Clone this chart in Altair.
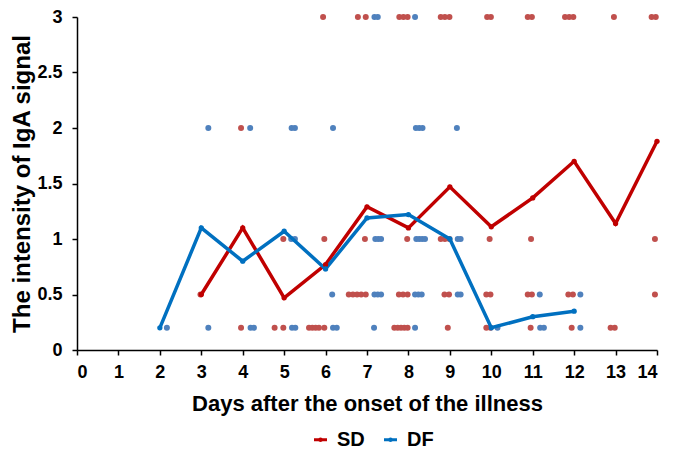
import altair as alt
import pandas as pd

# ---- individual samples (day position as plotted, IgA signal) ----
sd_y3 = [5.94, 6.78, 6.97, 7.78, 7.88, 7.98, 8.78, 8.88, 8.99, 9.9, 9.99,
         10.88, 10.98, 11.78, 11.88, 11.98, 12.96, 13.87, 13.97]
sd_y2 = [3.96]
sd_y1 = [4.98, 5.97, 6.95, 7.97, 8.78, 8.88, 8.99, 9.96, 10.96, 13.95]
sd_y05 = [2.98, 6.56, 6.66, 6.76, 6.86, 6.97, 7.77, 7.87, 7.98, 8.87, 8.98,
          9.88, 9.98, 10.88, 10.98, 11.86, 11.97, 13.95]
sd_y02 = [3.96, 4.77, 4.98, 5.6, 5.68, 5.76, 5.84, 5.97, 7.66, 7.74, 7.82,
          7.9, 7.98, 8.95, 9.88, 9.98, 10.95, 11.94, 12.88, 12.98]

df_y3 = [7.18, 7.26, 8.16]
df_y2 = [3.17, 4.18, 5.18, 5.26, 6.18, 8.18, 8.26, 8.34, 9.17]
df_y1 = [5.17, 5.26, 7.2, 7.27, 7.34, 8.19, 8.26, 8.33, 8.4, 9.19, 9.26]
df_y05 = [6.16, 7.18, 7.26, 7.34, 8.16, 8.24, 8.32, 9.19, 9.26, 11.17, 12.15]
df_y02 = [2.17, 3.17, 4.19, 4.27, 5.19, 5.27, 6.18, 6.27, 7.17, 8.16, 10.15,
          11.18, 11.27, 12.15]

# ---- group means ----
sd_days = [3, 4, 5, 6, 7, 8, 9, 10, 11, 12, 13, 14]
sd_mean = [0.5, 1.1, 0.47, 0.77, 1.29, 1.1, 1.47, 1.11, 1.37, 1.7, 1.14, 1.88]
df_days = [2, 3, 4, 5, 6, 7, 8, 9, 10, 11, 12]
df_mean = [0.2, 1.1, 0.8, 1.07, 0.73, 1.19, 1.22, 1.0, 0.2, 0.3, 0.35]

groups = ["SD", "DF"]
line_colors = ["#C00000", "#0070C0"]
point_colors = {"SD": "#C0504D", "DF": "#4F81BD"}

rows = []
for grp, sets in [("SD", [(3, sd_y3), (2, sd_y2), (1, sd_y1), (0.5, sd_y05), (0.2, sd_y02)]),
                  ("DF", [(3, df_y3), (2, df_y2), (1, df_y1), (0.5, df_y05), (0.2, df_y02)])]:
    for yv, xs in sets:
        for xv in xs:
            rows.append({"day": xv, "signal": yv, "group": grp, "pc": point_colors[grp]})
pts = pd.DataFrame(rows)

lines = pd.DataFrame(
    [{"day": d, "mean": m, "group": "SD"} for d, m in zip(sd_days, sd_mean)]
    + [{"day": d, "mean": m, "group": "DF"} for d, m in zip(df_days, df_mean)]
)

FONT = "Liberation Sans"

xscale = alt.Scale(domain=[0, 14], nice=False, zero=False)
yscale = alt.Scale(domain=[0, 3], nice=False)

xaxis = alt.Axis(values=list(range(15)), title="Days after the onset of the illness",
                 grid=False, tickSize=5, labelPadding=8, titlePadding=12,
                 labelFontSize=18, titleFontSize=22)
yaxis = alt.Axis(values=[0, 0.5, 1, 1.5, 2, 2.5, 3], format="~g",
                 title="The intensity of IgA signal", grid=False, tickSize=5,
                 labelPadding=10, titlePadding=2, labelFontSize=18, titleFontSize=24)

points = alt.Chart(pts).mark_circle(size=36, opacity=1).encode(
    x=alt.X("day:Q", scale=xscale, axis=xaxis),
    y=alt.Y("signal:Q", scale=yscale, axis=yaxis),
    fill=alt.Fill("pc:N", scale=None, legend=None),
)

legend_symbol = "M-0.5,0H0.5M-0.06,0a0.06,0.06 0 1,0 0.12,0a0.06,0.06 0 1,0 -0.12,0"

meanlines = alt.Chart(lines).mark_line(
    strokeWidth=3.5, point=alt.OverlayMarkDef(filled=True, size=28)
).encode(
    x=alt.X("day:Q", scale=xscale),
    y=alt.Y("mean:Q", scale=yscale),
    color=alt.Color("group:N", scale=alt.Scale(domain=groups, range=line_colors),
                    sort=groups,
                    legend=alt.Legend(orient="none", legendX=229, legendY=408,
                                      direction="horizontal", title=None,
                                      symbolType=legend_symbol, symbolSize=676,
                                      symbolStrokeWidth=3, labelFontSize=20,
                                      labelOffset=2, columnPadding=11)),
)

chart = alt.layer(points, meanlines).properties(
    width=580, height=333,
    autosize=alt.AutoSizeParams(type="none"),
    padding={"left": 69, "top": 9, "right": 10, "bottom": 99},
).configure_view(stroke=None).configure_axis(
    labelFont=FONT, titleFont=FONT, labelFontWeight="bold", titleFontWeight="bold",
    labelColor="black", titleColor="black", domainColor="black", tickColor="black",
    domainWidth=1.5, tickWidth=1.5,
).configure_legend(labelFont=FONT, labelFontWeight="bold", labelColor="black")

chart.save("out.html", embed_options={"renderer": "svg", "actions": False})
